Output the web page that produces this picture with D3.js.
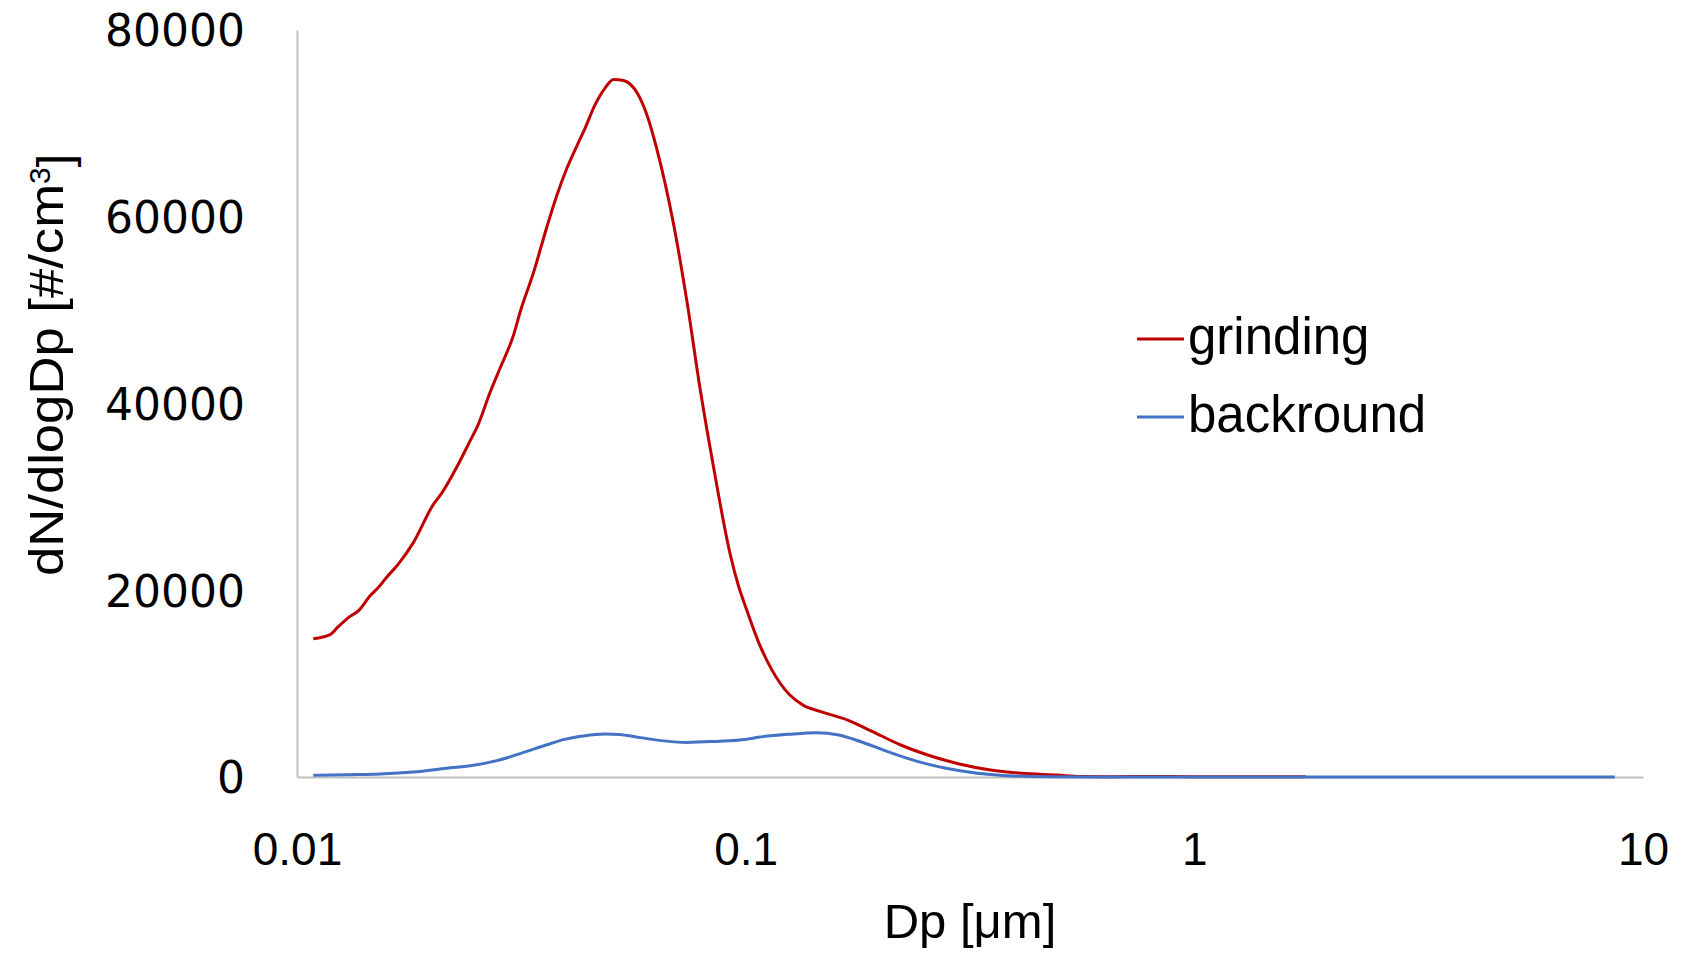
<!DOCTYPE html>
<html>
<head>
<meta charset="utf-8">
<script src="https://cdn.jsdelivr.net/npm/d3@7"></script>
<style>
  html, body { margin: 0; padding: 0; background: #ffffff; }
  svg { display: block; }
</style>
</head>
<body>
<svg id="chart" width="1682" height="953"></svg>
<script>
// ---- data ----
const grindingDp = [0.01087,0.01185,0.01236,0.01313,0.0137,0.01455,0.01518,0.01585,0.01682,0.01817,0.02014,0.02102,0.02271,0.02431,0.02537,0.02694,0.02836,0.03037,0.03143,0.03365,0.03605,0.03795,0.03995,0.04206,0.04387,0.04618,0.04863,0.05075,0.05342,0.05723,0.06025,0.06343,0.06908,0.074,0.0792,0.0848,0.09242,0.0962,0.1007,0.1067,0.1143,0.1253,0.1342,0.1471,0.1688,0.1892,0.2223,0.2607,0.2993,0.3515,0.4126,0.4953,0.5561,0.65,0.8,1.0,1.3,1.77];
const grindingN = [14800,15240,16100,17200,17800,19400,20300,21400,22800,25100,29200,30400,33200,36000,37800,41200,43800,47300,49800,54000,58900,62300,65200,67600,69500,72000,73800,74700,74600,73300,70900,67200,59200,50900,41500,33200,23800,20600,17800,14500,11500,8800,7700,7000,6100,5000,3400,2200,1400,750,400,210,60,40,50,40,30,20];

const backgroundDp = [0.01087,0.0129,0.01532,0.01817,0.02158,0.02475,0.02786,0.03143,0.03605,0.03922,0.04353,0.04863,0.05237,0.05436,0.06343,0.074,0.0848,0.1007,0.1067,0.1253,0.1437,0.1613,0.1807,0.2075,0.2381,0.2795,0.3281,0.3942,0.4731,0.6,1.0,2.0,4.0,8.65];
const backgroundN = [180,250,320,530,940,1250,1750,2500,3450,4000,4400,4600,4550,4450,3950,3700,3800,4050,4250,4580,4740,4500,3780,2710,1750,930,400,110,30,10,10,5,5,0];

const seriesNames = ["grinding", "backround"];
const seriesColors = ["#c00000", "#4472c4"];
const xTickValues = [0.01, 0.1, 1, 10];
const xTickLabels = ["0.01", "0.1", "1", "10"];
const yTickValues = [0, 20000, 40000, 60000, 80000];
const xTitle = "Dp [μm]";
const yTitleMain = "dN/dlogDp [#/cm";
const yTitleSup = "3";
const yTitleEnd = "]";

// ---- layout ----
const svg = d3.select("#chart");
const x = d3.scaleLog().domain([0.01, 10]).range([297, 1643]);
const y = d3.scaleLinear().domain([0, 80000]).range([777, 30]);

// x axis
const xAxis = svg.append("g")
  .attr("transform", `translate(0,${y(0)})`)
  .call(d3.axisBottom(x).tickValues(xTickValues)
    .tickFormat((d, i) => xTickLabels[i]).tickSize(0).tickSizeOuter(0));
xAxis.select(".domain").attr("stroke", "#bfbfbf").attr("stroke-width", 2);
xAxis.selectAll(".tick text")
  .attr("y", 88).attr("dy", null)
  .attr("fill", "#000")
  .style("font-family", "'Liberation Sans', Arial, sans-serif")
  .style("font-size", "46px");

// y axis
const yAxis = svg.append("g")
  .attr("transform", `translate(${x(0.01)},0)`)
  .call(d3.axisLeft(y).tickValues(yTickValues)
    .tickFormat(d3.format("d")).tickSize(0).tickSizeOuter(0).tickPadding(52));
yAxis.select(".domain").attr("stroke", "#bfbfbf").attr("stroke-width", 2);
yAxis.selectAll(".tick text")
  .attr("dy", "0.36em")
  .attr("fill", "#000")
  .style("font-family", "'DejaVu Sans', sans-serif")
  .style("font-size", "44px");

// lines
const series = [
  { name: seriesNames[0], color: seriesColors[0], dp: grindingDp, n: grindingN },
  { name: seriesNames[1], color: seriesColors[1], dp: backgroundDp, n: backgroundN }
];
const line = d3.line()
  .x(d => x(d[0]))
  .y(d => Math.min(y(0), y(d[1])))
  .curve(d3.curveMonotoneX);

svg.append("g").selectAll("path.series")
  .data(series)
  .join("path")
  .attr("class", "series")
  .attr("fill", "none")
  .attr("stroke", d => d.color)
  .attr("stroke-width", 3)
  .attr("stroke-linejoin", "round")
  .attr("d", d => line(d.dp.map((v, i) => [v, d.n[i]])));

// legend
const legend = svg.append("g").selectAll("g")
  .data(series)
  .join("g")
  .attr("transform", (d, i) => `translate(1137,${339 + i * 78})`);
legend.append("line")
  .attr("x1", 0).attr("x2", 47).attr("y1", 0).attr("y2", 0)
  .attr("stroke", d => d.color).attr("stroke-width", 3);
legend.append("text")
  .attr("x", 51).attr("y", 15)
  .style("font-family", "'Liberation Sans', Arial, sans-serif")
  .style("font-size", "51px")
  .attr("fill", "#000")
  .text(d => d.name);

// axis titles
svg.append("text")
  .attr("x", 970).attr("y", 938)
  .attr("text-anchor", "middle")
  .style("font-family", "'Liberation Sans', Arial, sans-serif")
  .style("font-size", "49px")
  .attr("fill", "#000")
  .text(xTitle);

const yt = svg.append("text")
  .attr("transform", "translate(63,365) rotate(-90)")
  .attr("text-anchor", "middle")
  .style("font-family", "'Liberation Sans', Arial, sans-serif")
  .style("font-size", "48px")
  .attr("fill", "#000");
yt.append("tspan").attr("textLength", 392).attr("lengthAdjust", "spacingAndGlyphs").text(yTitleMain);
yt.append("tspan").attr("dy", "-0.45em").style("font-size", "30px").text(yTitleSup);
yt.append("tspan").attr("dy", "0.45em").text(yTitleEnd);
</script>
</body>
</html>
